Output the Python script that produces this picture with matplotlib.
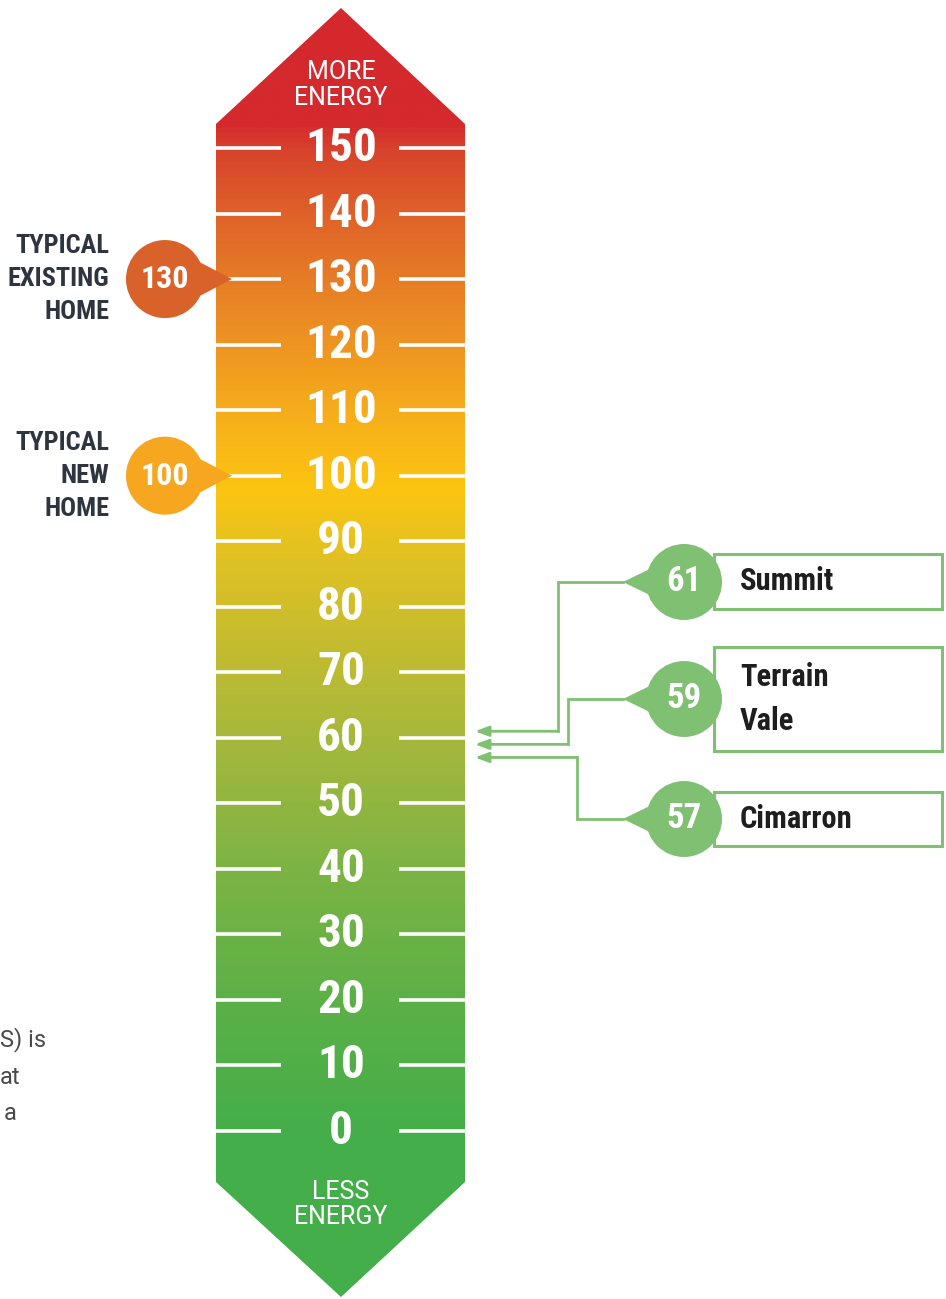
import numpy as np
import matplotlib
matplotlib.use("Agg")
import matplotlib.pyplot as plt
from matplotlib import font_manager as fm
from matplotlib.colors import LinearSegmentedColormap, Normalize
from matplotlib.patches import Polygon, Rectangle

# scale data
scale_ticks = list(range(0, 160, 10))

# reference homes on the left
ref_values = [130, 100]
ref_labels = [["TYPICAL", "EXISTING", "HOME"], ["TYPICAL", "NEW", "HOME"]]
ref_colors = ["#D9622B", "#F6A71F"]

# communities on the right
com_values = [61, 59, 57]
com_names = [["Summit"], ["Terrain", "Vale"], ["Cimarron"]]

# narrow font if installed, else plain Roboto
installed = {f.name for f in fm.fontManager.ttflist}
pref = ["Roboto Condensed", "Noto Sans Condensed", "Liberation Sans Narrow"]
COND = next((p for p in pref if p in installed), "Roboto")
PLAIN = "Roboto"

W, H = 946, 1299
Y150, Y0 = 148, 1131          # pixel rows of 150 and 0
K = (Y0 - Y150) / 150.0       # pixels per unit


def yv(p):
    # pixel row -> scale value (layout helper)
    return 150 - (p - Y150) / K


V_TOP, V_BOT = yv(0), yv(H)

fig = plt.figure(figsize=(W / 100, H / 100), dpi=100)
ax = fig.add_axes([0, 0, 1, 1])
ax.set_xlim(0, W)
ax.set_ylim(V_BOT, V_TOP)
ax.axis("off")

# gradient arrow
stops = [(V_BOT, "#43AE4A"), (-8, "#43AE4A"), (0, "#45AE4A"), (20, "#5DB047"),
         (40, "#7CB444"), (60, "#A6B83B"), (80, "#D0BE2B"), (90, "#E6C21F"),
         (98, "#FCC511"), (110, "#F6AD1B"), (120, "#EE9522"), (130, "#E67D26"),
         (140, "#DF6229"), (150, "#D8432C"), (154, "#D42A2D"), (V_TOP, "#D4282D")]
cmap = LinearSegmentedColormap.from_list(
    "hers", [((v - V_BOT) / (V_TOP - V_BOT), c) for v, c in stops])
arrow = Polygon([(216, yv(124)), (341, yv(8)), (465, yv(124)),
                 (465, yv(1182)), (341, yv(1297)), (216, yv(1182))],
                closed=True, facecolor="none", edgecolor="none")
ax.add_patch(arrow)
grad = np.linspace(V_BOT, V_TOP, 1000).reshape(-1, 1)
im = ax.imshow(grad, extent=(216, 465, V_BOT, V_TOP), origin="lower", cmap=cmap,
               norm=Normalize(V_BOT, V_TOP), aspect="auto", interpolation="bilinear")
im.set_clip_path(arrow)

for v in scale_ticks:
    ax.plot([216, 281], [v, v], color="white", lw=2.6, solid_capstyle="butt", zorder=3)
    ax.plot([399, 465], [v, v], color="white", lw=2.6, solid_capstyle="butt", zorder=3)
    ax.text(341, v, str(v), color="white", ha="center", va="center",
            fontsize=34, fontweight="bold", family=COND, zorder=4)

for y, s in [(72, "MORE"), (98, "ENERGY"), (1192, "LESS"), (1217, "ENERGY")]:
    ax.text(341, yv(y), s, color="white", ha="center", va="center",
            fontsize=18, family=PLAIN, zorder=4)

# left callouts
for v, lab, col in zip(ref_values, ref_labels, ref_colors):
    ax.add_patch(Polygon([(190, v + 22 / K), (232, v), (190, v - 22 / K)],
                         closed=True, facecolor=col, edgecolor="none", zorder=5))
    ax.scatter([165], [v], s=3158, color=col, edgecolors="none", zorder=5)
    ax.text(165, v, str(v), color="white", ha="center", va="center", fontsize=23,
            family=COND, fontweight="bold", zorder=6)
    for i, line in enumerate(lab):
        ax.text(109, v + (1 - i) * 33 / K, line, color="#2E3440", ha="right",
                va="center", fontsize=19, family=COND, fontweight="bold")

# right callouts
GREEN = "#80C072"
circle_rows = [582, 699, 819]
elbow_x = [558, 568, 577]
boxes = [(554, 609), (647, 751), (792, 846)]
for v, nm, cy, ex, (bt, bb) in zip(com_values, com_names, circle_rows, elbow_x, boxes):
    ax.add_patch(Rectangle((714, yv(bb)), 228, yv(bt) - yv(bb), facecolor="white",
                           edgecolor=GREEN, lw=2.2, zorder=5))
    ax.plot([623, ex, ex], [yv(cy), yv(cy), v], color=GREEN, lw=2, zorder=5,
            solid_joinstyle="miter")
    ax.annotate("", xy=(475, v), xytext=(ex, v),
                arrowprops=dict(arrowstyle="-|>,head_length=0.8,head_width=0.3",
                                color=GREEN, lw=2, shrinkA=0, shrinkB=0), zorder=5)
    ax.add_patch(Polygon([(660, yv(cy - 18)), (623, yv(cy)), (660, yv(cy + 18))],
                         closed=True, facecolor=GREEN, edgecolor="none", zorder=6))
    ax.scatter([684], [yv(cy)], s=2992, color=GREEN, edgecolors="none", zorder=6)
    ax.text(684, yv(cy), str(v), color="white", ha="center", va="center", fontsize=25,
            family=COND, fontweight="bold", zorder=7)
    mid = (bt + bb) / 2
    for i, n in enumerate(nm):
        off = (i - (len(nm) - 1) / 2) * 44
        ax.text(740, yv(mid + off), n, color="#1E1E1E", ha="left", va="center",
                fontsize=22, family=COND, fontweight="bold", zorder=7)

# tail of the body text that runs off the left edge
for x, y, s in [(0, 1040, "S) is"), (0, 1077, "at"), (4, 1113, "a")]:
    ax.text(x, yv(y), s, color="#4A4A4A", ha="left", va="center", fontsize=17,
            family=PLAIN)

fig.savefig("out.png", dpi=100)
